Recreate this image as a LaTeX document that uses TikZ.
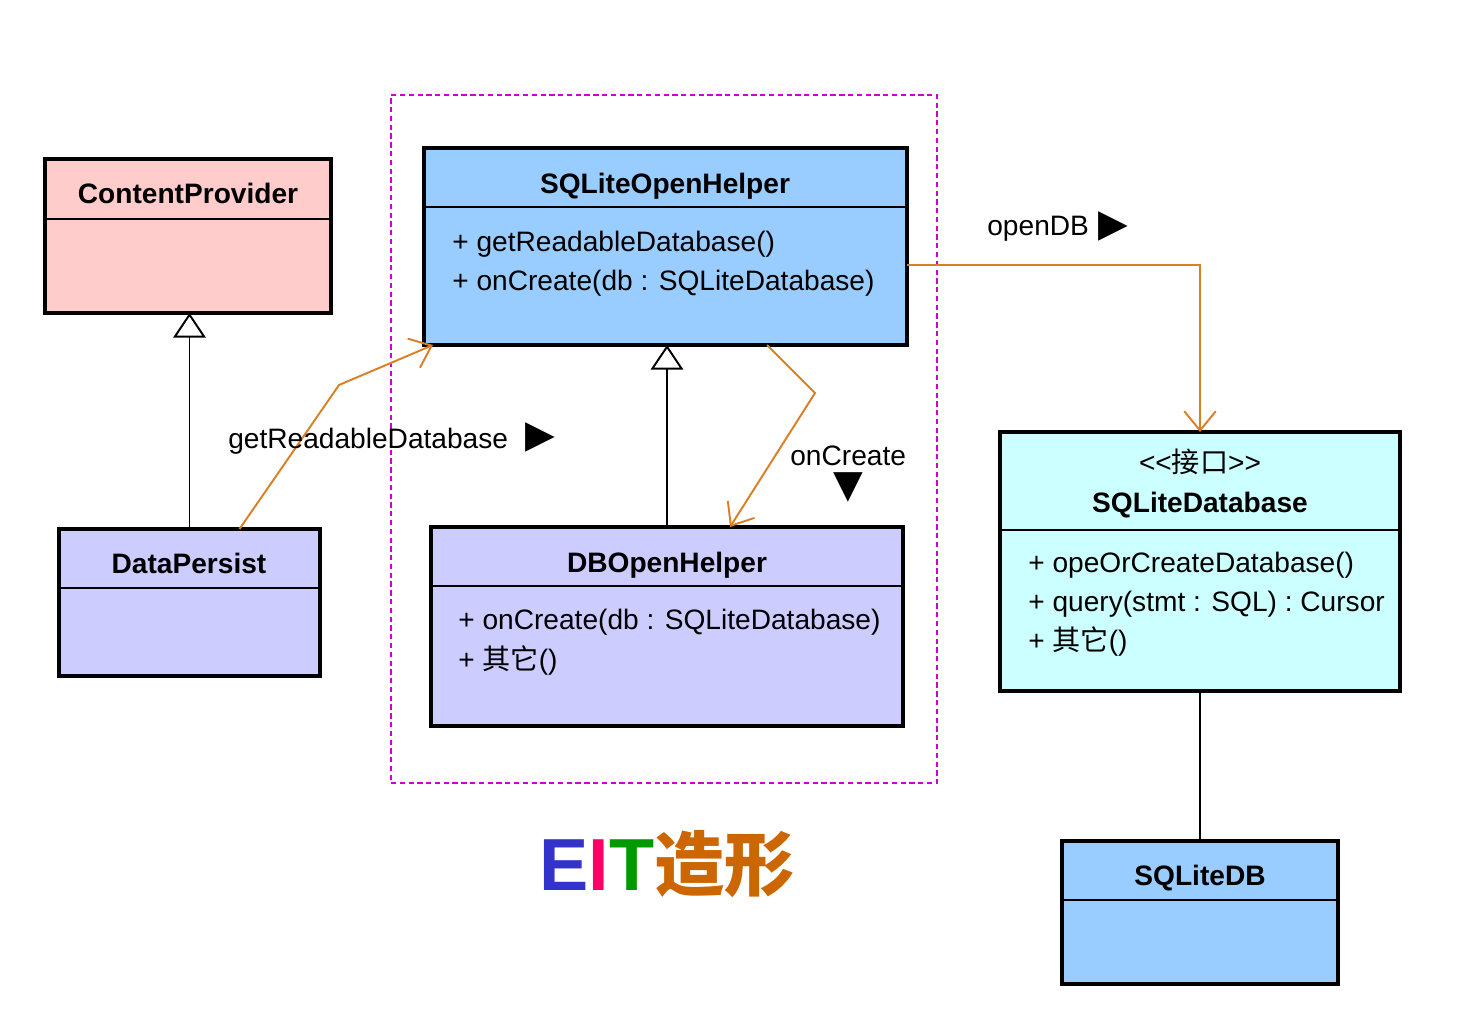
\documentclass[tikz,border=0pt]{standalone}
\usepackage{fontspec}
\setmainfont{Liberation Sans}
\newfontfamily\cjk{Noto Sans CJK SC}
\newfontfamily\sym{DejaVu Sans}
\usetikzlibrary{arrows.meta,fit,calc}
\definecolor{pinkfill}{RGB}{255,204,204}
\definecolor{bluefill}{RGB}{153,204,255}
\definecolor{lilacfill}{RGB}{204,204,255}
\definecolor{cyanfill}{RGB}{204,255,255}
\definecolor{callcol}{RGB}{217,128,38}
\definecolor{pkgcol}{RGB}{204,0,204}
\definecolor{eitblue}{RGB}{51,51,204}
\definecolor{eitred}{RGB}{255,0,102}
\definecolor{eitgreen}{RGB}{0,153,0}
\definecolor{eitorange}{RGB}{204,102,0}
\tikzset{
    umlclass/.style={draw, line width=2.2pt, inner sep=0pt, outer sep=0pt},
    title/.style={anchor=base, inner sep=0pt, font=\fontsize{16}{19}\selectfont\bfseries},
    member/.style={anchor=base west, inner sep=0pt, font=\fontsize{16}{19}\selectfont},
    marker/.style={inner sep=0pt, font=\sym\fontsize{22}{22}\selectfont},
    call/.style={draw=callcol, line width=1.1pt, -{Straight Barb[length=11pt,width=18pt]}},
    inherit/.style={line width=1.1pt, -{Triangle[open,length=14pt,width=18.5pt]}},
}
\begin{document}
\begin{tikzpicture}[x=0.02cm, y=-0.02cm]
        \useasboundingbox (0,0) rectangle (1460,1012);
        % package frame
        \node[draw=pkgcol, line width=0.8pt, dash pattern=on 3pt off 2pt, inner sep=0pt, fit={(391,95) (937,783)}] (pkg) {};
        % classes
        \node[umlclass, fill=pinkfill, fit={(45,159) (331,313)}] (cp) {};
        \node[umlclass, fill=lilacfill, fit={(59,529) (320,676)}] (dp) {};
        \node[umlclass, fill=bluefill, fit={(424,148) (907,345)}] (soh) {};
        \node[umlclass, fill=lilacfill, fit={(431,527) (903,726)}] (dbo) {};
        \node[umlclass, fill=cyanfill, fit={(1000,432) (1400,691)}] (sqd) {};
        \node[umlclass, fill=bluefill, fit={(1062,841) (1338,984)}] (sdb) {};
        % header lines
        \draw[line width=0.8pt] ($(cp.north west)+(0,60)$) -- ($(cp.north east)+(0,60)$);
        \draw[line width=0.8pt] ($(dp.north west)+(0,59)$) -- ($(dp.north east)+(0,59)$);
        \draw[line width=0.8pt] ($(soh.north west)+(0,59)$) -- ($(soh.north east)+(0,59)$);
        \draw[line width=0.8pt] ($(dbo.north west)+(0,59)$) -- ($(dbo.north east)+(0,59)$);
        \draw[line width=0.8pt] ($(sqd.north west)+(0,98)$) -- ($(sqd.north east)+(0,98)$);
        \draw[line width=0.8pt] ($(sdb.north west)+(0,59)$) -- ($(sdb.north east)+(0,59)$);
        % class names
        \node[title] (cpname) at (188,203) {ContentProvider};
        \node[title] (dpname) at (189,573) {DataPersist};
        \node[title] (sohname) at (665,193) {SQLiteOpenHelper};
        \node[title] (dboname) at (667,572) {DBOpenHelper};
        \node[title, font=\fontsize{16}{19}\selectfont] (sqdtag) at (1200,472) {<{}<{\cjk 接口}>{}>};
        \node[title] (sqdname) at (1200,512) {SQLiteDatabase};
        \node[title] (sdbname) at (1200,885) {SQLiteDB};
        % operations
        \node[member] (soh1) at (452,251) {+ getReadableDatabase()};
        \node[member] (soh2) at (452,290) {+ onCreate(db : SQLiteDatabase)};
        \node[member] (dbo1) at (458,629) {+ onCreate(db : SQLiteDatabase)};
        \node[member] (dbo2) at (458,669) {+ {\cjk 其它}()};
        \node[member] (sqd1) at (1028,572) {+ opeOrCreateDatabase()};
        \node[member] (sqd2) at (1028,611) {+ query(stmt : SQL) : Cursor};
        \node[member] (sqd3) at (1028,650) {+ {\cjk 其它}()};
        % generalisations
        \draw[inherit] (dp.north) -- (dp.north |- cp.south);
        \draw[inherit] (dbo.north) -- (dbo.north |- soh.south);
        % link to SQLiteDB
        \draw[line width=1.1pt] (sqd.south) -- (sqd.south |- sdb.north);
        % call getReadableDatabase
        \draw[call] ($(dp.north)+(50,0)$) -- (339,385) -- ($(soh.south west)+(9,0)$);
        \node[member] (grdlbl) at (228,448) {getReadableDatabase};
        \node[marker] (grddir) at (540,437) {▶};
        % call onCreate
        \draw[call] ($(soh.south west)+(343,0)$) -- (815,393) -- ($(dbo.north west)+(299,0)$);
        \node[member] (oclbl) at (790,465) {onCreate};
        \node[marker] (ocdir) at (848,487) {▼};
        % call openDB
        \draw[call] ($(soh.north east)+(0,117)$) -| (sqd.north);
        \node[member] (odblbl) at (987,235) {openDB};
        \node[marker] (odbdir) at (1113,226) {▶};
        % logo
        \node[anchor=base, inner sep=0pt, font=\bfseries\fontsize{42}{42}\selectfont] (brand) at (667,890)
            {\textcolor{eitblue}{E}\textcolor{eitred}{I}\textcolor{eitgreen}{T}{\cjk\fontsize{40}{40}\selectfont\textcolor{eitorange}{造形}}};
\end{tikzpicture}
\end{document}
